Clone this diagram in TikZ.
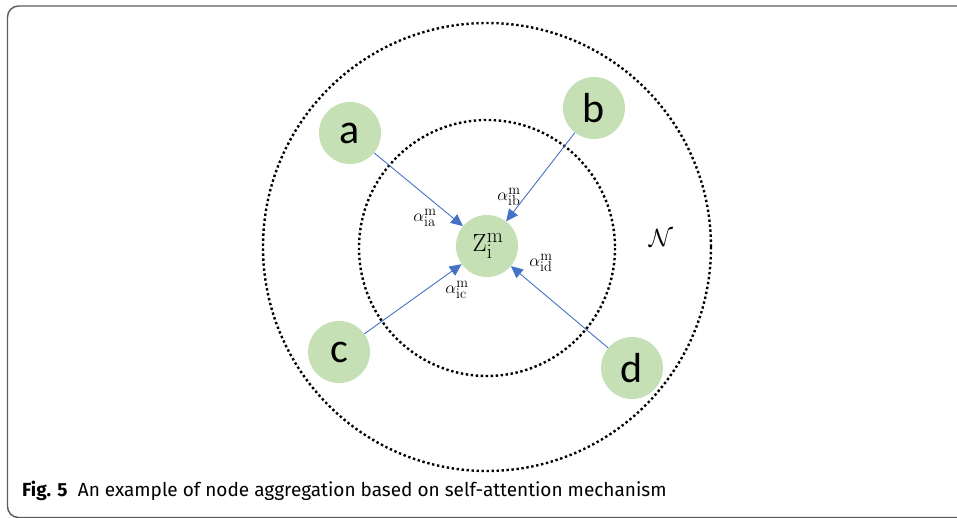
\documentclass[tikz,border=0pt]{standalone}
\usepackage[no-math]{fontspec}
\setmainfont{Fira Sans}
\newfontfamily\nodefont{Carlito}
\usetikzlibrary{arrows.meta}
\definecolor{nodegreen}{RGB}{197,224,180}
\definecolor{arrowblue}{RGB}{68,114,196}
\definecolor{framegray}{RGB}{90,90,90}
\begin{document}
\begin{tikzpicture}[x=1pt,y=-1pt,
  nb/.style={circle,fill=nodegreen,minimum size=62pt,inner sep=0pt,font=\nodefont\fontsize{42}{42}\selectfont},
  dotring/.style={line width=2.4pt,dash pattern=on 2.4pt off 2.6pt,draw=black},
  att/.style={draw=arrowblue,line width=0.9pt,-{Triangle[length=12pt,width=11pt]}},
  albl/.style={font=\fontsize{19}{19}\selectfont,inner sep=0pt}]
\useasboundingbox (0,0) rectangle (957,518);
\draw[framegray,line width=1.4pt,rounded corners=11pt] (7.5,6) rectangle (990,517.5);
\draw[dotring] (487,247) circle[radius=224];
\draw[dotring] (487,248) circle[radius=128];
\node[nb,font=\fontsize{31}{31}\selectfont] (z) at (487,246) {$\mathrm{Z}_{\mathrm{i}}^{\mathrm{m}}$\kern-2pt};
\node[nb] (a) at (350,133) {a};
\node[nb] (b) at (594,108) {b};
\node[nb] (c) at (339,352) {c};
\node[nb] (d) at (632,368) {d};
\draw[att] (a) -- (z);
\draw[att] (b) -- (z);
\draw[att] (c) -- (z);
\draw[att] (d) -- (z);
\node[albl] (la) at (425,218) {$\alpha_{\mathrm{ia}}^{\mathrm{m}}$};
\node[albl] (lb) at (509,197) {$\alpha_{\mathrm{ib}}^{\mathrm{m}}$};
\node[albl] (lc) at (457,290) {$\alpha_{\mathrm{ic}}^{\mathrm{m}}$};
\node[albl] (ld) at (541,263) {$\alpha_{\mathrm{id}}^{\mathrm{m}}$};
\node[font=\fontsize{46}{46}\selectfont] (N) at (661,238) {$\mathcal{N}$};
\node[anchor=base west,inner sep=0pt,font=\fontsize{19}{20}\selectfont] (cap) at (22,496) {\textbf{Fig. 5}\hspace{0.55em}An example of node aggregation based on self-attention mechanism};
\end{tikzpicture}
\end{document}
